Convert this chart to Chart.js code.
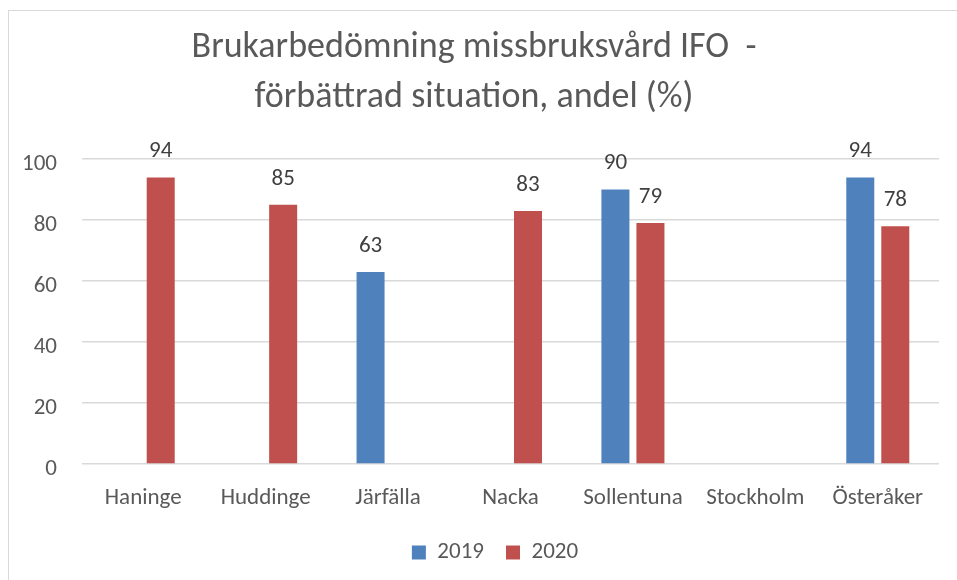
<!DOCTYPE html>
<html>
<head>
<meta charset="utf-8">
<script src="https://cdn.jsdelivr.net/npm/chart.js@4.4.0/dist/chart.umd.min.js"></script>
<style>
  body { margin: 0; background: #fff; overflow: hidden; }
  .frame {
    position: absolute; left: 8px; top: 10px;
    width: 960px; height: 580px;
    border-top: 1px solid #d9d9d9; border-left: 1px solid #d9d9d9;
  }
  canvas { display: block; }
</style>
</head>
<body>
<div class="frame">
  <canvas id="chart" width="948" height="569"></canvas>
</div>
<script>
const categories = ['Haninge', 'Huddinge', 'Järfälla', 'Nacka', 'Sollentuna', 'Stockholm', 'Österåker'];
const values2019 = [null, null, 63, null, 90, null, 94];
const values2020 = [94, 85, null, 83, 79, null, 78];
const titleLines = ['Brukarbedömning missbruksvård IFO  -', 'förbättrad situation, andel (%)'];

const FONT = 'Carlito, Calibri, Lato, sans-serif';

// value labels above bars
const barLabels = {
  id: 'barLabels',
  afterDatasetsDraw(chart) {
    const ctx = chart.ctx;
    ctx.save();
    ctx.font = '23px ' + FONT;
    ctx.fillStyle = '#404040';
    ctx.textAlign = 'center';
    ctx.textBaseline = 'middle';
    chart.data.datasets.forEach((ds, i) => {
      const meta = chart.getDatasetMeta(i);
      meta.data.forEach((bar, j) => {
        const v = ds.data[j];
        if (v === null || v === undefined) return;
        ctx.fillText(v, bar.x, bar.y - 26);
      });
    });
    ctx.restore();
  }
};

// nudge legend a bit right/up like in the excel chart
const legendNudge = {
  id: 'legendNudge',
  afterLayout(chart) {
    const lg = chart.legend;
    lg.left += 21; lg.right += 21;
    lg.top -= 6; lg.bottom -= 6;
  }
};

new Chart(document.getElementById('chart'), {
  type: 'bar',
  data: {
    labels: categories,
    datasets: [
      { label: '2019', data: values2019, backgroundColor: '#4F81BD' },
      { label: '2020', data: values2020, backgroundColor: '#C0504D' }
    ]
  },
  options: {
    responsive: false,
    animation: false,
    categoryPercentage: 0.572,
    barPercentage: 0.8,
    layout: { padding: { left: 0, right: 18, top: 0, bottom: 0 } },
    plugins: {
      title: {
        display: true,
        text: titleLines,
        color: '#595959',
        font: { family: FONT, size: 36, weight: 'normal', lineHeight: 1.39 },
        padding: { top: 12, bottom: 36 }
      },
      legend: {
        position: 'bottom',
        labels: {
          color: '#595959',
          font: { family: FONT, size: 23 },
          boxWidth: 14,
          boxHeight: 14,
          padding: 22
        }
      },
      tooltip: { enabled: false }
    },
    scales: {
      x: {
        afterFit(axis) { axis.height = 61; },
        grid: { display: false },
        border: { display: false },
        ticks: { color: '#595959', font: { family: FONT, size: 23 }, padding: 12 }
      },
      y: {
        min: 0,
        max: 100,
        afterFit(axis) { axis.width = 73; },
        grid: { color: '#d9d9d9', lineWidth: 1.5, drawTicks: false },
        border: { display: false },
        ticks: { stepSize: 20, color: '#595959', font: { family: FONT, size: 23 }, padding: 25, labelOffset: 5 }
      }
    }
  },
  plugins: [barLabels, legendNudge]
});
</script>
</body>
</html>
